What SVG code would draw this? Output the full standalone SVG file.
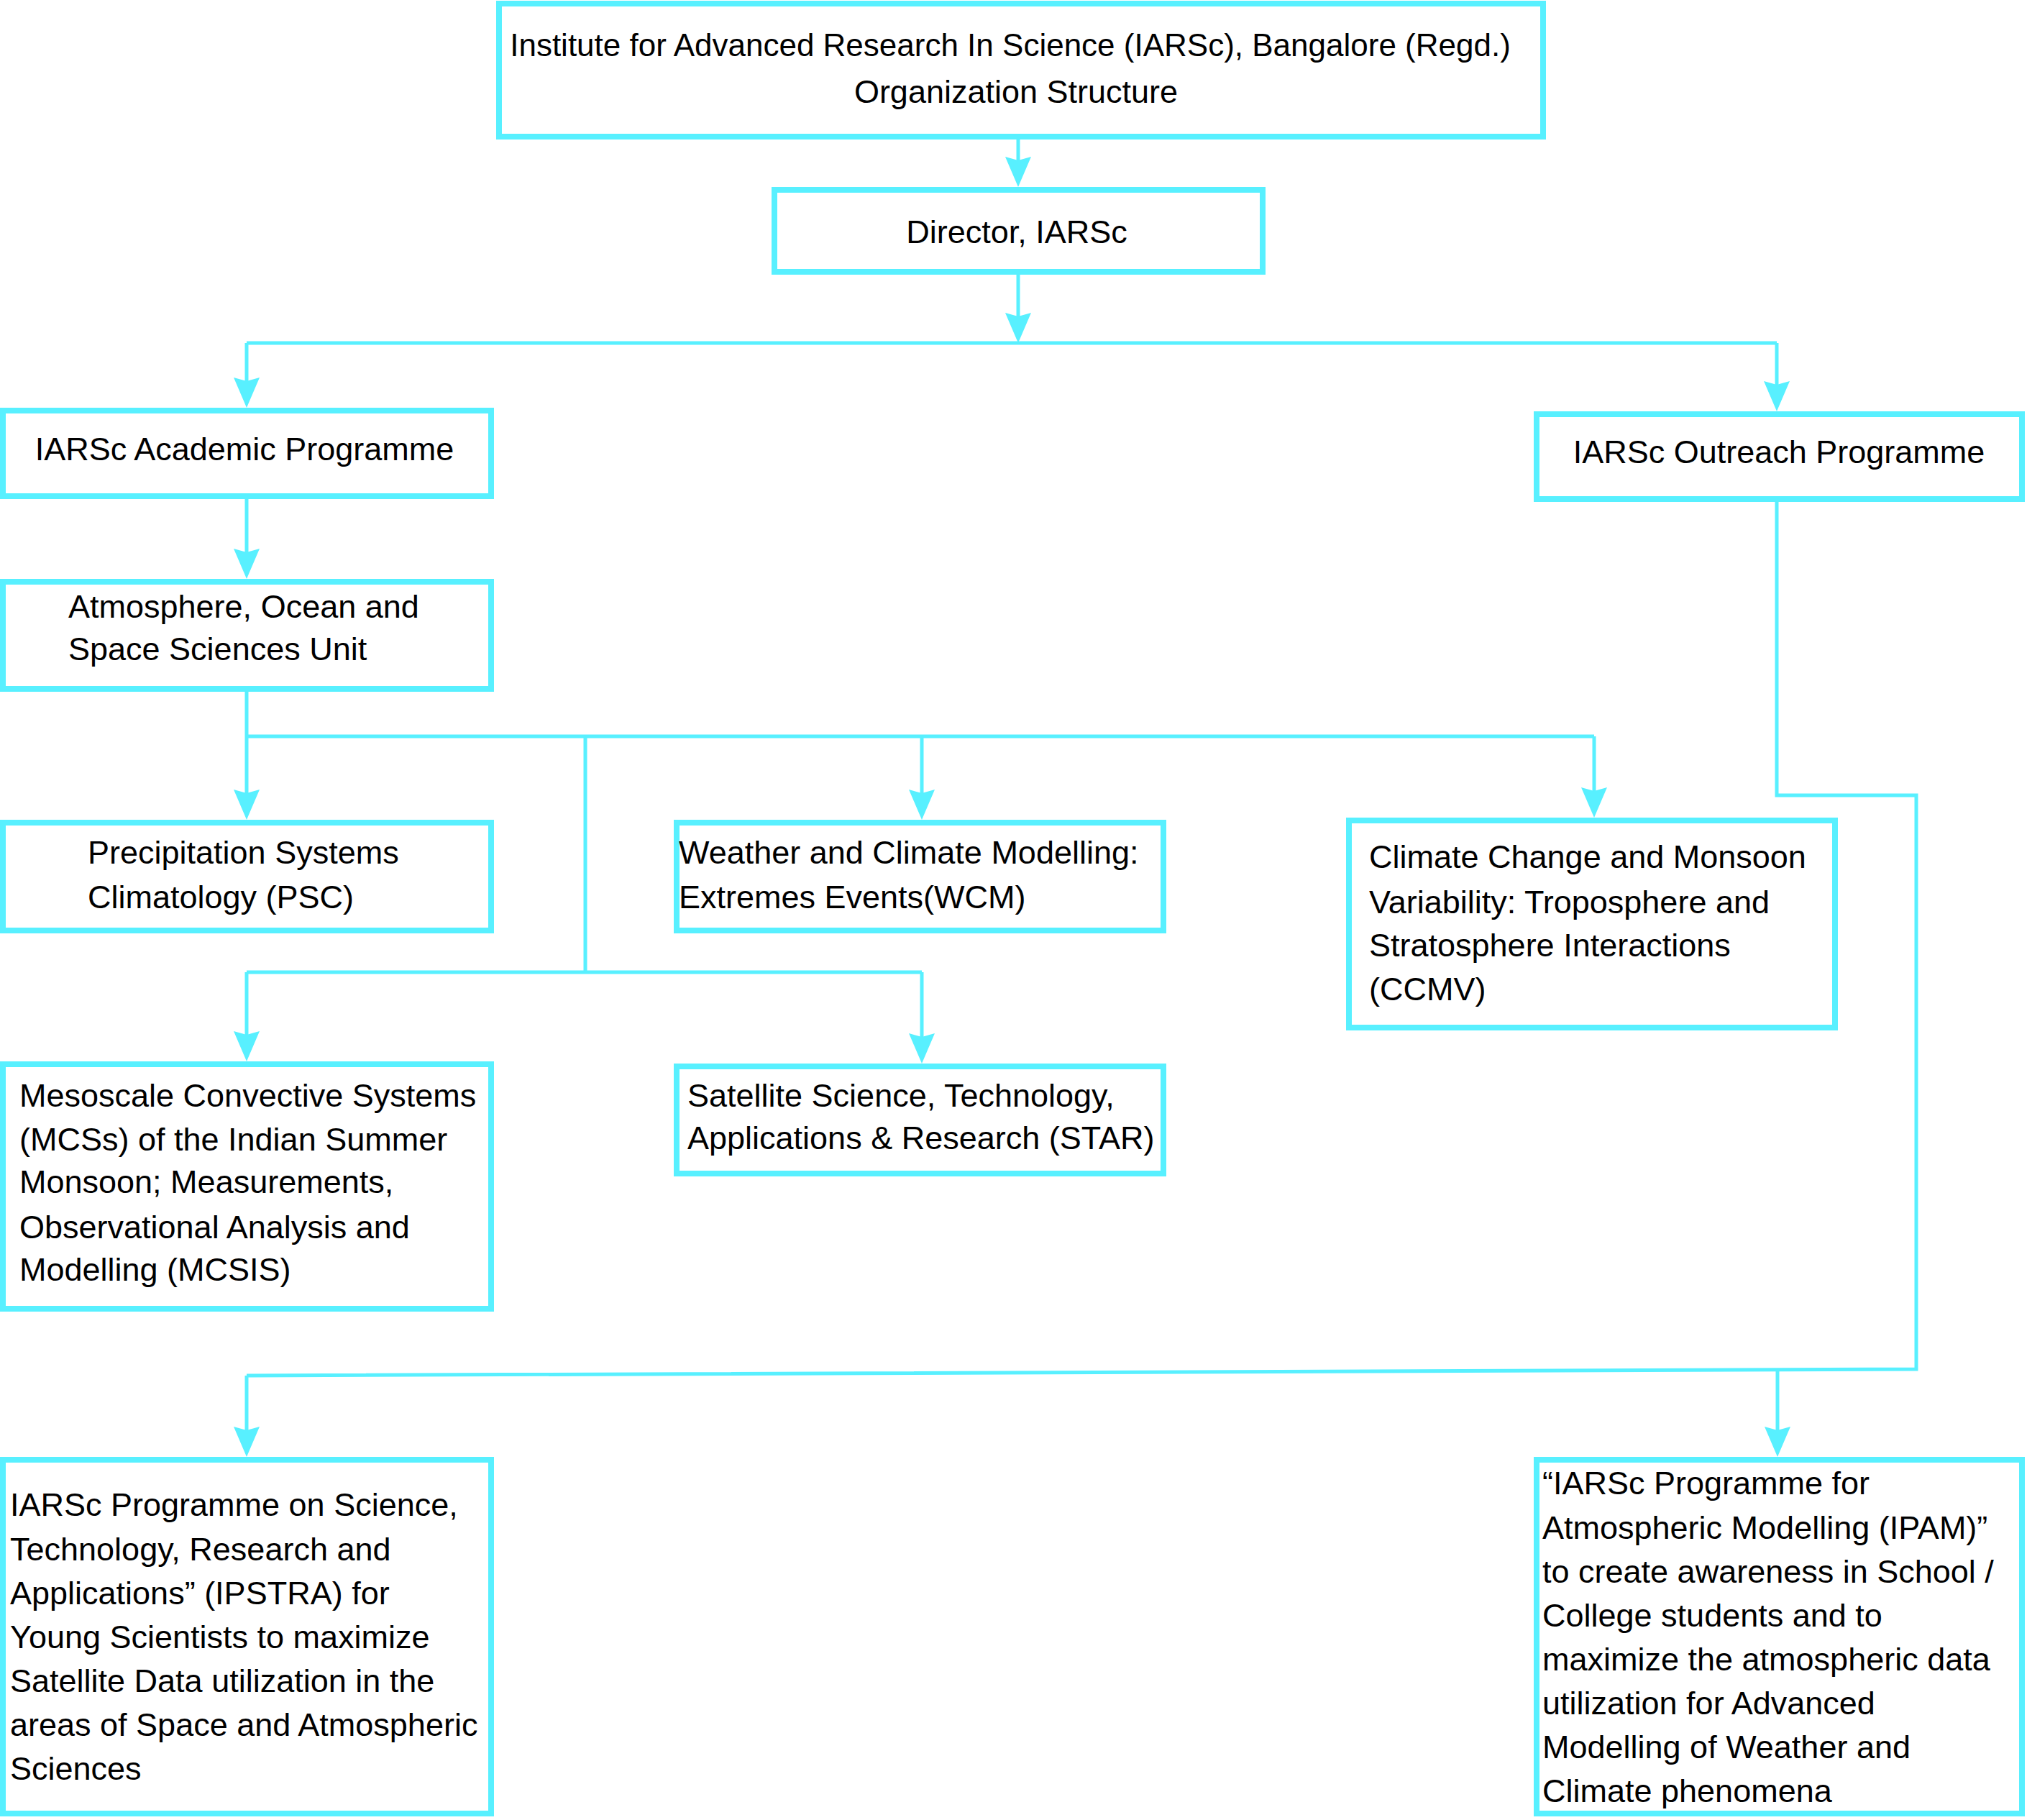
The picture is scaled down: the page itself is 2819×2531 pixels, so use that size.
<svg xmlns="http://www.w3.org/2000/svg" width="2819" height="2531" viewBox="0 0 2819 2531">
<style>
.box{fill:#ffffff;stroke:#58F0FF;stroke-width:8}
.con{fill:none;stroke:#58F0FF;stroke-width:5}
.t{font-family:"Liberation Sans",Arial,sans-serif;font-size:45px;fill:#000000}
.m{text-anchor:middle}
</style>
<defs>
<marker id="ah" viewBox="-44 -20 46 40" refX="-8" refY="0" markerWidth="46" markerHeight="40" markerUnits="userSpaceOnUse" orient="auto">
<path d="M0,0 L-42,-18 L-37,0 L-42,18 Z" fill="#58F0FF"/>
</marker>
</defs>
<rect width="2819" height="2531" fill="#ffffff"/>
<g id="connectors">
<path class="con" d="M1416,194 V252" marker-end="url(#ah)"/>
<path class="con" d="M1416,382 V469" marker-end="url(#ah)"/>
<path class="con" d="M343,477 H2471"/>
<path class="con" d="M343,477 V559" marker-end="url(#ah)"/>
<path class="con" d="M2471,477 V564" marker-end="url(#ah)"/>
<path class="con" d="M343,694 V797" marker-end="url(#ah)"/>
<path class="con" d="M343,962 V1132" marker-end="url(#ah)"/>
<path class="con" d="M343,1024 H2217"/>
<path class="con" d="M1282,1024 V1132" marker-end="url(#ah)"/>
<path class="con" d="M2217,1024 V1129" marker-end="url(#ah)"/>
<path class="con" d="M814,1024 V1352"/>
<path class="con" d="M343,1352 H1282"/>
<path class="con" d="M343,1352 V1468" marker-end="url(#ah)"/>
<path class="con" d="M1282,1352 V1471" marker-end="url(#ah)"/>
<path class="con" d="M2471,698 V1106 H2665 V1904 L343,1913"/>
<path class="con" d="M343,1913 V2018" marker-end="url(#ah)"/>
<path class="con" d="M2472,1905 V2018" marker-end="url(#ah)"/>
</g>
<g id="node-title">
<rect class="box" x="694" y="5" width="1452" height="185"/>
<text class="t m" x="1405" y="78" style="font-size:44px">Institute for Advanced Research In Science (IARSc), Bangalore (Regd.)</text>
<text class="t m" x="1413" y="143">Organization Structure</text>
</g>
<g id="node-director">
<rect class="box" x="1077" y="264" width="679" height="114"/>
<text class="t m" x="1414" y="338">Director, IARSc</text>
</g>
<g id="node-academic">
<rect class="box" x="4" y="571" width="679" height="119"/>
<text class="t m" x="340" y="640">IARSc Academic Programme</text>
</g>
<g id="node-outreach">
<rect class="box" x="2137" y="576" width="675" height="118"/>
<text class="t m" x="2474" y="644">IARSc Outreach Programme</text>
</g>
<g id="node-aossu">
<rect class="box" x="4" y="809" width="679" height="149"/>
<text class="t" x="95" y="859">Atmosphere, Ocean and</text>
<text class="t" x="95" y="918">Space Sciences Unit</text>
</g>
<g id="node-psc">
<rect class="box" x="4" y="1144" width="679" height="150"/>
<text class="t" x="122" y="1201">Precipitation Systems</text>
<text class="t" x="122" y="1263">Climatology (PSC)</text>
</g>
<g id="node-wcm">
<rect class="box" x="941" y="1144" width="677" height="150"/>
<text class="t" x="944" y="1201">Weather and Climate Modelling:</text>
<text class="t" x="944" y="1263">Extremes Events(WCM)</text>
</g>
<g id="node-ccmv">
<rect class="box" x="1876" y="1141" width="676" height="288"/>
<text class="t" x="1904" y="1207">Climate Change and Monsoon</text>
<text class="t" x="1904" y="1270">Variability: Troposphere and</text>
<text class="t" x="1904" y="1330">Stratosphere Interactions</text>
<text class="t" x="1904" y="1391">(CCMV)</text>
</g>
<g id="node-mcsis">
<rect class="box" x="4" y="1480" width="679" height="340"/>
<text class="t" x="27" y="1539">Mesoscale Convective Systems</text>
<text class="t" x="27" y="1600">(MCSs) of the Indian Summer</text>
<text class="t" x="27" y="1659">Monsoon; Measurements,</text>
<text class="t" x="27" y="1722">Observational Analysis and</text>
<text class="t" x="27" y="1781">Modelling (MCSIS)</text>
</g>
<g id="node-star">
<rect class="box" x="941" y="1483" width="677" height="149"/>
<text class="t" x="956" y="1539">Satellite Science, Technology,</text>
<text class="t" x="956" y="1598">Applications &amp; Research (STAR)</text>
</g>
<g id="node-ipstra">
<rect class="box" x="4" y="2030" width="679" height="492"/>
<text class="t" x="14" y="2108">IARSc Programme on Science,</text>
<text class="t" x="14" y="2170">Technology, Research and</text>
<text class="t" x="14" y="2231">Applications” (IPSTRA) for</text>
<text class="t" x="14" y="2292">Young Scientists to maximize</text>
<text class="t" x="14" y="2353">Satellite Data utilization in the</text>
<text class="t" x="14" y="2414">areas of Space and Atmospheric</text>
<text class="t" x="14" y="2475">Sciences</text>
</g>
<g id="node-ipam">
<rect class="box" x="2137" y="2030" width="675" height="492"/>
<text class="t" x="2145" y="2078">“IARSc Programme for</text>
<text class="t" x="2145" y="2140">Atmospheric Modelling (IPAM)”</text>
<text class="t" x="2145" y="2201">to create awareness in School /</text>
<text class="t" x="2145" y="2262">College students and to</text>
<text class="t" x="2145" y="2323">maximize the atmospheric data</text>
<text class="t" x="2145" y="2384">utilization for Advanced</text>
<text class="t" x="2145" y="2445">Modelling of Weather and</text>
<text class="t" x="2145" y="2506">Climate phenomena</text>
</g>
</svg>
